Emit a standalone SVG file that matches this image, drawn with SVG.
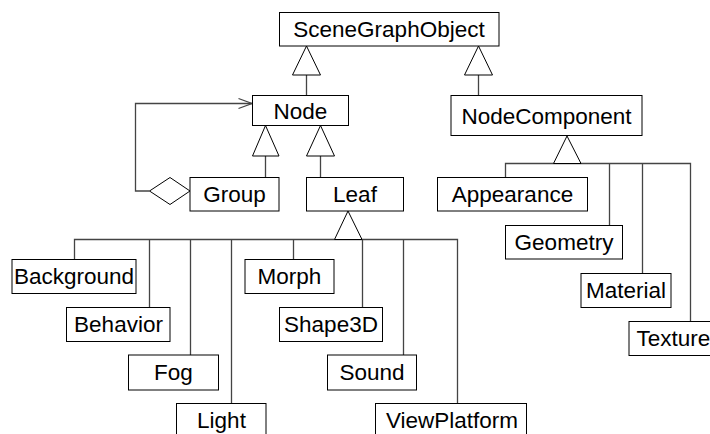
<svg xmlns="http://www.w3.org/2000/svg" width="710" height="434" viewBox="0 0 710 434">
<style>
.box{fill:#fff;stroke:#000;stroke-width:1}
.lbl{font-family:"Liberation Sans",Arial,sans-serif;font-size:22.5px;fill:#000;text-anchor:middle}
.ln{fill:none;stroke:#444;stroke-width:1.3}
.tri{fill:#fff;stroke:#000;stroke-width:1}
</style>
<rect width="710" height="434" fill="#fff"/>
<g id="connectors">
<path class="ln" d="M306.5,75 V95.5 M478.5,75 V95.5 M265.5,156 V177.5 M320.5,156 V177.5"/>
<path class="ln" d="M74.5,259.5 V239.5 H457.5 V403.5 M149.5,239.5 V307.5 M190.5,239.5 V355 M231.5,239.5 V403.5 M293.5,239.5 V259.5 M362.5,239.5 V307.5 M403.5,239.5 V355"/>
<path class="ln" d="M505.5,177.5 V163.5 H690.5 V321.5 M609.5,163.5 V225.5 M642.5,163.5 V273.5"/>
<path class="ln" d="M149.5,191 H135.5 V103.5 H252"/>
<path class="ln" d="M238.5,98.5 L252,103.5 L238.5,108.5"/>
<polygon class="tri" points="306.5,46 292.5,75 320.5,75"/>
<polygon class="tri" points="478.5,46 464.5,75 492.5,75"/>
<polygon class="tri" points="265.5,125.5 252.5,156 279,156"/>
<polygon class="tri" points="320.5,125.5 306.5,156 334.5,156"/>
<polygon class="tri" points="348,211 334.5,239.5 362,239.5"/>
<polygon class="tri" points="567,136 553.5,163.5 581,163.5"/>
<polygon class="tri" points="149.5,191 170,177.5 190,191 170,204.5"/>
</g>
<g id="SceneGraphObject"><rect class="box" x="279.5" y="12.5" width="219.5" height="33.5"/><text class="lbl" x="389" y="37">SceneGraphObject</text></g>
<g id="Node"><rect class="box" x="252.5" y="95.5" width="96" height="30"/><text class="lbl" x="300.5" y="118.5">Node</text></g>
<g id="NodeComponent"><rect class="box" x="451" y="95.5" width="191" height="40"/><text class="lbl" x="546.5" y="123.5">NodeComponent</text></g>
<g id="Group"><rect class="box" x="190" y="177.5" width="89" height="33.5"/><text class="lbl" x="234.5" y="202">Group</text></g>
<g id="Leaf"><rect class="box" x="306.5" y="177.5" width="97" height="33.5"/><text class="lbl" x="355" y="202">Leaf</text></g>
<g id="Appearance"><rect class="box" x="437.5" y="177.5" width="150" height="33.5"/><text class="lbl" x="512.5" y="202">Appearance</text></g>
<g id="Geometry"><rect class="box" x="505.5" y="225.5" width="117" height="33.5"/><text class="lbl" x="564" y="250">Geometry</text></g>
<g id="Material"><rect class="box" x="581" y="273.5" width="90" height="34"/><text class="lbl" x="626" y="298">Material</text></g>
<g id="Texture"><rect class="box" x="629" y="321.5" width="92" height="34"/><text class="lbl" x="636.5" y="346" style="text-anchor:start">Texture</text></g>
<g id="Background"><rect class="box" x="12" y="259.5" width="124" height="34"/><text class="lbl" x="74" y="284">Background</text></g>
<g id="Behavior"><rect class="box" x="66.5" y="307.5" width="103.5" height="34"/><text class="lbl" x="118.5" y="332">Behavior</text></g>
<g id="Fog"><rect class="box" x="128.5" y="355" width="90" height="35"/><text class="lbl" x="173.5" y="380">Fog</text></g>
<g id="Light"><rect class="box" x="176.5" y="403.5" width="89.5" height="34"/><text class="lbl" x="221.5" y="428">Light</text></g>
<g id="Morph"><rect class="box" x="245" y="259.5" width="89" height="34"/><text class="lbl" x="289.5" y="284">Morph</text></g>
<g id="Shape3D"><rect class="box" x="279.5" y="307.5" width="103" height="34"/><text class="lbl" x="331" y="332">Shape3D</text></g>
<g id="Sound"><rect class="box" x="327.5" y="355" width="89" height="35"/><text class="lbl" x="372" y="380">Sound</text></g>
<g id="ViewPlatform"><rect class="box" x="375.5" y="403.5" width="151" height="34"/><text class="lbl" x="452" y="428">ViewPlatform</text></g>
</svg>
